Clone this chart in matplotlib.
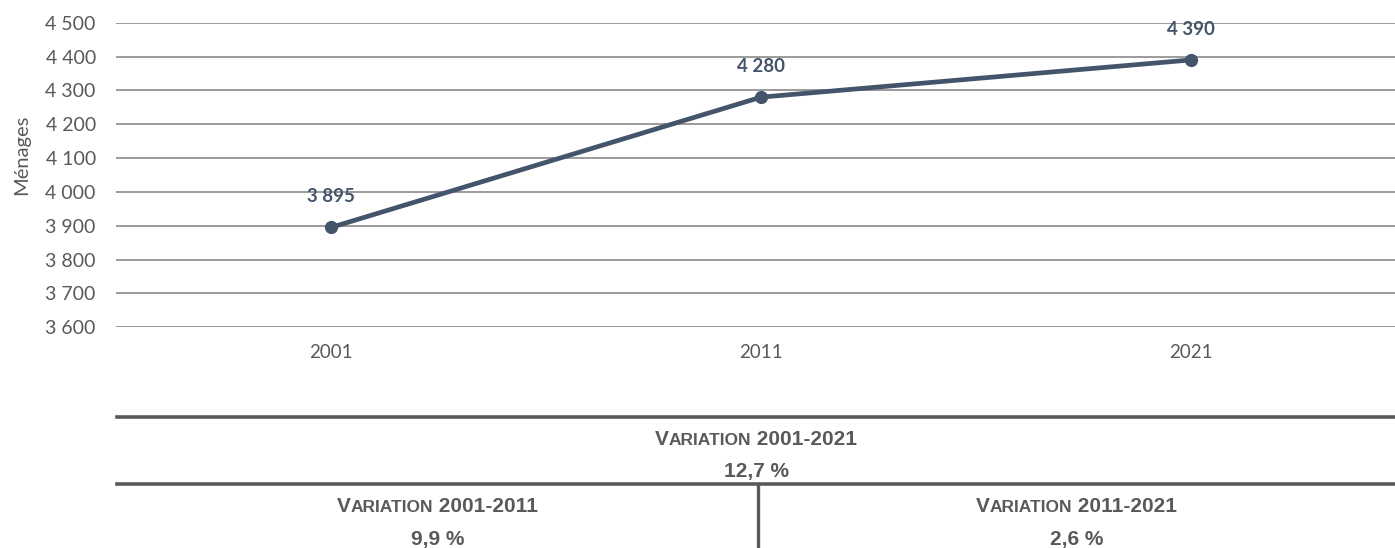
import matplotlib
matplotlib.use("Agg")
import matplotlib.pyplot as plt

years = ["2001", "2011", "2021"]
menages = [3895, 4280, 4390]
yticks = [3600, 3700, 3800, 3900, 4000, 4100, 4200, 4300, 4400, 4500]

var_total = ("2001-2021", "12,7 %")
var_parts = [("2001-2011", "9,9 %"), ("2011-2021", "2,6 %")]

C_LINE = "#44546A"
C_TEXT = "#595959"
C_GRID = "#8a8a8a"
W, H = 1395, 548


def fx(px):
    return px / W


def fy(py):
    return 1 - py / H


def fmt(v):
    return f"{v:,}".replace(",", " ")


fig = plt.figure(figsize=(W / 100, H / 100), dpi=100)
ax = fig.add_axes([fx(116), fy(327.3), fx(1406 - 116), fy(22.7) - fy(327.3)])

x = list(range(len(years)))
ax.plot(x, menages, color=C_LINE, lw=3.4, marker="o", ms=8.5, zorder=3,
        solid_capstyle="round")
for xi, v in zip(x, menages):
    ax.annotate(fmt(v), (xi, v), xytext=(0, 22), textcoords="offset points",
                ha="center", va="center", color=C_LINE, fontsize=13.5,
                fontweight="bold", family="Lato")

ax.set_xlim(-0.5, len(years) - 0.5)
ax.set_ylim(yticks[0], yticks[-1])
ax.set_yticks(yticks)
ax.set_yticklabels([fmt(t) for t in yticks], family="Lato", fontsize=14, color=C_TEXT)
ax.set_xticks(x)
ax.set_xticklabels(years, family="Lato", fontsize=13.5, color=C_TEXT)
ax.tick_params(length=0)
ax.tick_params(axis="y", pad=14.5)
ax.tick_params(axis="x", pad=12)
ax.grid(axis="y", color=C_GRID, lw=1.2)
ax.set_axisbelow(True)
for s in ax.spines.values():
    s.set_visible(False)
fig.text(fx(22), fy(155), "Ménages", rotation=90, ha="center", va="center",
         family="Lato", fontsize=14.5, color=C_TEXT)

# ---- variation table below the chart ----
fig.add_artist(plt.Line2D([fx(117), 1], [fy(416.7)] * 2, color=C_TEXT, lw=2.6))
fig.add_artist(plt.Line2D([fx(117), 1], [fy(484.3)] * 2, color=C_TEXT, lw=2.6))
fig.add_artist(plt.Line2D([fx(757.7)] * 2, [fy(484.3), 0], color=C_TEXT, lw=2.4))

renderer = fig.canvas.get_renderer()
FONT = dict(family="Liberation Sans", fontweight="bold", color=C_TEXT)


def small_caps(cx, baseline, period):
    parts = [("V", 15), ("ARIATION", 12.5), (" " + period, 15)]
    texts = [fig.text(0, fy(baseline), s, fontsize=sz, ha="left", va="baseline", **FONT)
             for s, sz in parts]
    widths = [t.get_window_extent(renderer).width for t in texts]
    left = cx - sum(widths) / 2
    for t, w in zip(texts, widths):
        t.set_x(fx(left))
        left += w


def cell(cx, top_base, period, value):
    small_caps(cx, top_base, period)
    fig.text(fx(cx), fy(top_base + 32), value, fontsize=15, ha="center",
             va="baseline", **FONT)


cell((117 + W) / 2, 445, *var_total)
cell((117 + 757.7) / 2, 512.5, *var_parts[0])
cell((757.7 + W) / 2, 512.5, *var_parts[1])

fig.savefig("out.png", dpi=100)
